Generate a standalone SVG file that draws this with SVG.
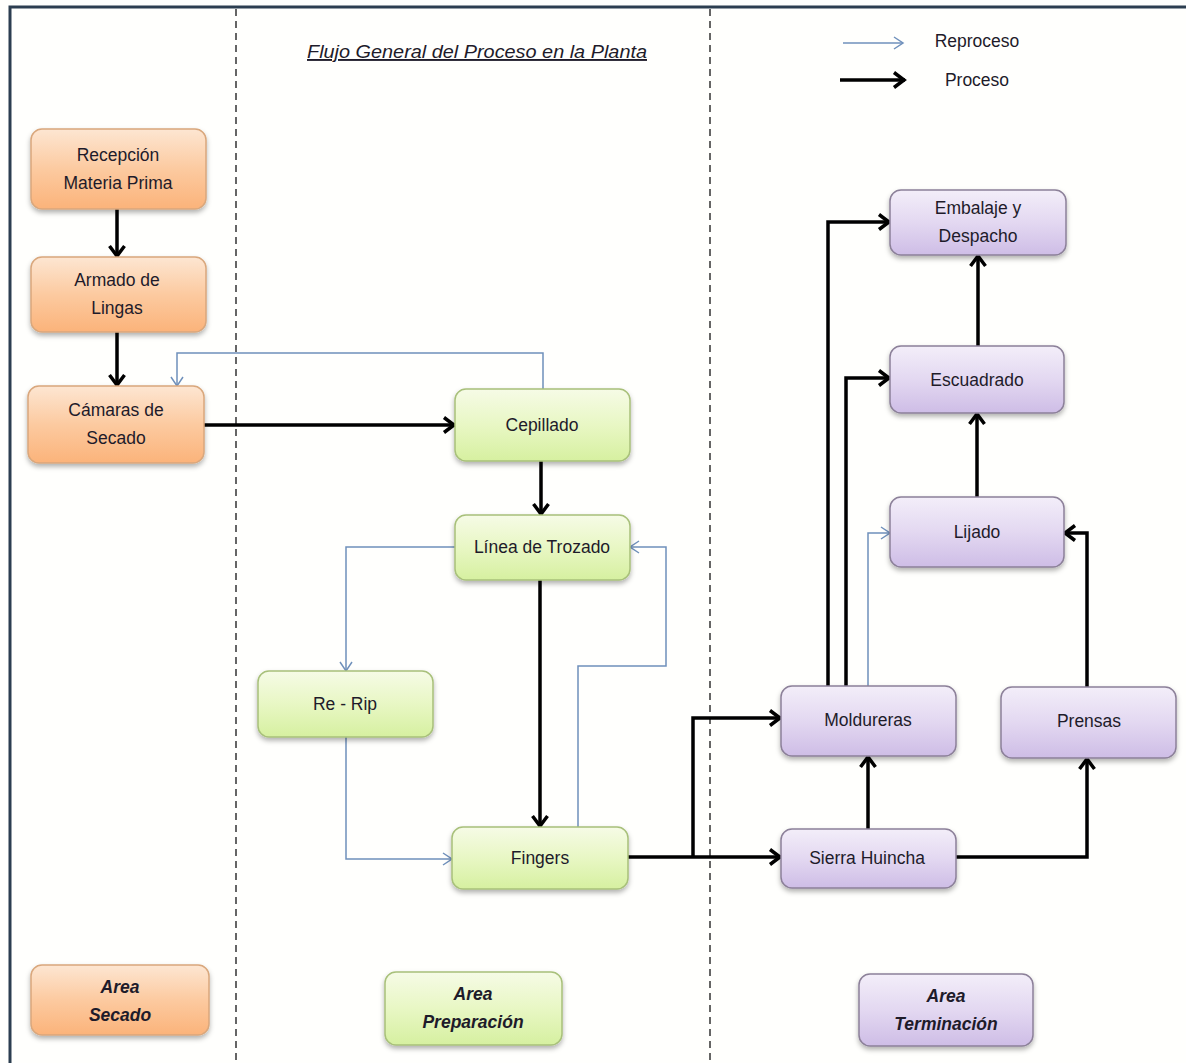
<svg xmlns="http://www.w3.org/2000/svg" width="1186" height="1063" viewBox="0 0 1186 1063">
<style>
.t{font-family:"Liberation Sans",Arial,sans-serif;font-size:17.5px;fill:#1e1b2a;text-anchor:middle}
.a{font-family:"Liberation Sans",Arial,sans-serif;font-size:17.5px;font-weight:bold;font-style:italic;fill:#1e1b2a;text-anchor:middle}
.o{fill:url(#gO);stroke:#d9a77c;stroke-width:1.5;filter:url(#sh)}
.g{fill:url(#gG);stroke:#a8c07a;stroke-width:1.5;filter:url(#sh)}
.p{fill:url(#gP);stroke:#8c8099;stroke-width:1.5;filter:url(#sh)}
.pk{fill:none;stroke:#000;stroke-width:3.5;marker-end:url(#mk)}
.rp{fill:none;stroke:#6f90bb;stroke-width:1.5;marker-end:url(#mb)}
.dash{stroke:#333;stroke-width:1.5;stroke-dasharray:7 5}
</style>
<defs>
<linearGradient id="gO" x1="0" y1="0" x2="0" y2="1"><stop offset="0" stop-color="#fde6d2"/><stop offset="0.5" stop-color="#fccaa0"/><stop offset="1" stop-color="#fbb37a"/></linearGradient>
<linearGradient id="gG" x1="0" y1="0" x2="0" y2="1"><stop offset="0" stop-color="#f6fbe6"/><stop offset="0.5" stop-color="#e8f7c4"/><stop offset="1" stop-color="#d6f0a0"/></linearGradient>
<linearGradient id="gP" x1="0" y1="0" x2="0" y2="1"><stop offset="0" stop-color="#f3eef9"/><stop offset="0.5" stop-color="#e3d8f1"/><stop offset="1" stop-color="#cebde6"/></linearGradient>
<filter id="sh" x="-10%" y="-10%" width="120%" height="130%"><feDropShadow dx="0" dy="3" stdDeviation="2.5" flood-color="#000" flood-opacity="0.3"/></filter>
<marker id="mk" markerUnits="userSpaceOnUse" markerWidth="18" markerHeight="20" refX="14" refY="10" orient="auto"><path d="M3,2.5 L13,10 L3,17.5" fill="none" stroke="#000" stroke-width="3.5"/></marker>
<marker id="mb" markerUnits="userSpaceOnUse" markerWidth="14" markerHeight="16" refX="11" refY="8" orient="auto"><path d="M2,2 L11,8 L2,14" fill="none" stroke="#6f90bb" stroke-width="1.5"/></marker>
</defs>
<rect width="1186" height="1063" fill="#fffffd"/>
<g id="frame">
<path d="M10,1063 V7 H1186" fill="none" stroke="#2c3e50" stroke-width="3"/>
<line class="dash" x1="236" y1="9" x2="236" y2="1063"/>
<line class="dash" x1="710" y1="9" x2="710" y2="1063"/>
</g>
<g id="title">
<text x="477" y="58" font-family="'Liberation Sans',Arial,sans-serif" font-size="19" font-style="italic" fill="#1e1b2a" text-anchor="middle" text-decoration="underline" textLength="340" lengthAdjust="spacingAndGlyphs">Flujo  General del Proceso en la Planta</text>
</g>
<g id="legend">
<line class="rp" x1="843" y1="43" x2="903" y2="43"/>
<text class="t" x="977" y="47">Reproceso</text>
<line class="pk" x1="840" y1="80" x2="905" y2="80"/>
<text class="t" x="977" y="86">Proceso</text>
</g>
<g id="connectors">
<path class="pk" d="M117,209 V257"/>
<path class="pk" d="M117,332 V386"/>
<path class="pk" d="M204,425 H455"/>
<path class="pk" d="M541,461 V515"/>
<path class="pk" d="M540,580 V827"/>
<path class="pk" d="M628,857 H781"/>
<path class="pk" d="M693,857 V718 H781"/>
<path class="pk" d="M868,829 V756"/>
<path class="pk" d="M955,857 H1087 V758"/>
<path class="pk" d="M1087,687 V533 H1064"/>
<path class="pk" d="M977,497 V413"/>
<path class="pk" d="M978,346 V255"/>
<path class="pk" d="M828,686 V222 H890"/>
<path class="pk" d="M846,686 V378 H890"/>
<path class="rp" d="M543,389 V353 H177 V386"/>
<path class="rp" d="M455,547 H346 V671"/>
<path class="rp" d="M346,737 V859 H452"/>
<path class="rp" d="M578,827 V666 H666 V547 H630"/>
<path class="rp" d="M868,686 V533 H890"/>
</g>
<g id="n-recepcion"><rect class="o" x="31" y="129" width="175" height="80" rx="11"/><text class="t" x="118" y="161">Recepción</text><text class="t" x="118" y="189">Materia Prima</text></g>
<g id="n-armado"><rect class="o" x="31" y="257" width="175" height="75" rx="11"/><text class="t" x="117" y="286">Armado de</text><text class="t" x="117" y="314">Lingas</text></g>
<g id="n-camaras"><rect class="o" x="28" y="386" width="176" height="77" rx="11"/><text class="t" x="116" y="416">Cámaras de</text><text class="t" x="116" y="444">Secado</text></g>
<g id="n-cepillado"><rect class="g" x="455" y="389" width="175" height="72" rx="11"/><text class="t" x="542" y="431">Cepillado</text></g>
<g id="n-linea"><rect class="g" x="455" y="515" width="175" height="65" rx="11"/><text class="t" x="542" y="553">Línea de Trozado</text></g>
<g id="n-rerip"><rect class="g" x="258" y="671" width="175" height="66" rx="11"/><text class="t" x="345" y="710">Re - Rip</text></g>
<g id="n-fingers"><rect class="g" x="452" y="827" width="176" height="62" rx="11"/><text class="t" x="540" y="864">Fingers</text></g>
<g id="n-embalaje"><rect class="p" x="890" y="190" width="176" height="65" rx="11"/><text class="t" x="978" y="214">Embalaje y</text><text class="t" x="978" y="242">Despacho</text></g>
<g id="n-escuadrado"><rect class="p" x="890" y="346" width="174" height="67" rx="11"/><text class="t" x="977" y="386">Escuadrado</text></g>
<g id="n-lijado"><rect class="p" x="890" y="497" width="174" height="70" rx="11"/><text class="t" x="977" y="538">Lijado</text></g>
<g id="n-moldureras"><rect class="p" x="781" y="686" width="175" height="70" rx="11"/><text class="t" x="868" y="726">Moldureras</text></g>
<g id="n-prensas"><rect class="p" x="1001" y="687" width="175" height="71" rx="11"/><text class="t" x="1089" y="727">Prensas</text></g>
<g id="n-sierra"><rect class="p" x="781" y="829" width="175" height="59" rx="11"/><text class="t" x="867" y="864">Sierra Huincha</text></g>
<g id="n-area-secado"><rect class="o" x="31" y="965" width="178" height="70" rx="11"/><text class="a" x="120" y="993">Area</text><text class="a" x="120" y="1021">Secado</text></g>
<g id="n-area-preparacion"><rect class="g" x="385" y="972" width="177" height="73" rx="11"/><text class="a" x="473" y="1000">Area</text><text class="a" x="473" y="1028">Preparación</text></g>
<g id="n-area-terminacion"><rect class="p" x="859" y="974" width="174" height="72" rx="11"/><text class="a" x="946" y="1002">Area</text><text class="a" x="946" y="1030">Terminación</text></g>
</svg>
